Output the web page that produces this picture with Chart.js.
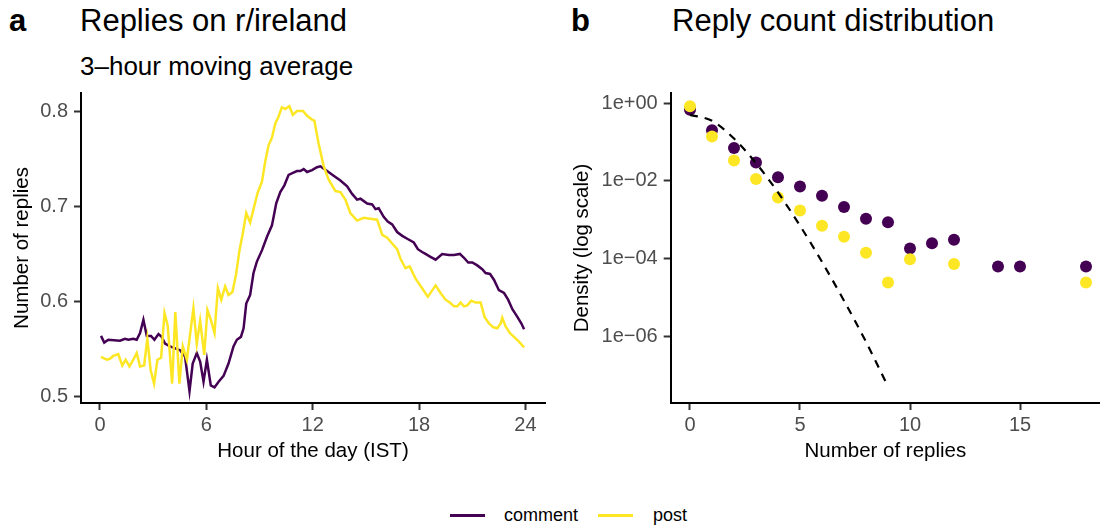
<!DOCTYPE html>
<html>
<head>
<meta charset="utf-8">
<script src="https://cdn.jsdelivr.net/npm/chart.js@4"></script>
<style>
  html, body { margin: 0; padding: 0; background: #fff; width: 1101px; height: 525px; overflow: hidden; }
  body { position: relative; font-family: "Liberation Sans", Arial, Helvetica, sans-serif; color: #000; }
  .txt { position: absolute; white-space: nowrap; line-height: 1; }
  canvas { position: absolute; top: 0; }
  .sw { position: absolute; height: 2.5px; }
</style>
</head>
<body>
<div class="txt" style="left:9px; top:5px; font-size:31px; font-weight:bold;">a</div>
<div class="txt" style="left:80px; top:5px; font-size:31px;">Replies on r/ireland</div>
<div class="txt" style="left:80px; top:53px; font-size:26px;">3–hour moving average</div>
<div class="txt" style="left:571px; top:5px; font-size:31px; font-weight:bold;">b</div>
<div class="txt" style="left:672px; top:5px; font-size:31px;">Reply count distribution</div>

<canvas id="left" width="550" height="480" style="left:0px;"></canvas>
<canvas id="right" width="549" height="480" style="left:551px;"></canvas>

<div class="sw" style="left:450px; top:514px; width:35px; background:#440154;"></div>
<div class="txt" style="left:504px; top:506px; font-size:18px;">comment</div>
<div class="sw" style="left:598px; top:514px; width:35px; background:#FDE725;"></div>
<div class="txt" style="left:653px; top:506px; font-size:18px;">post</div>

<script>
// ---------- Panel a: 3-hour moving average of replies ----------
const commentHours = [0.06,0.24,0.47,1.13,1.41,1.6,1.88,2.07,2.26,2.45,2.64,2.88,3.07,3.3,3.48,3.67,3.95,4.24,4.52,4.8,5.05,5.23,5.46,5.65,5.84,6.03,6.25,6.46,6.69,6.97,7.25,7.53,7.72,7.95,8.1,8.25,8.47,8.66,8.85,9.14,9.42,9.7,9.94,10.17,10.4,10.64,10.88,11.11,11.3,11.49,11.68,11.96,12.24,12.43,12.81,13.18,13.56,13.94,14.22,14.5,14.69,15.07,15.35,15.54,15.72,16.0,16.23,16.48,16.76,17.05,17.33,17.7,17.93,18.17,18.36,18.64,18.93,19.3,19.68,19.97,20.3,20.53,20.77,21.0,21.28,21.56,21.75,22.0,22.22,22.5,22.79,23.02,23.26,23.54,23.77,23.92];
const commentValues = [0.564,0.557,0.560,0.559,0.561,0.560,0.561,0.560,0.567,0.581,0.564,0.564,0.560,0.566,0.563,0.556,0.553,0.551,0.549,0.542,0.506,0.535,0.546,0.537,0.516,0.539,0.512,0.510,0.516,0.522,0.535,0.553,0.560,0.563,0.572,0.598,0.607,0.630,0.642,0.654,0.668,0.680,0.703,0.715,0.722,0.733,0.735,0.737,0.737,0.739,0.736,0.738,0.741,0.742,0.737,0.732,0.727,0.721,0.713,0.707,0.708,0.703,0.702,0.697,0.698,0.689,0.684,0.681,0.673,0.669,0.666,0.662,0.655,0.652,0.650,0.647,0.644,0.650,0.649,0.649,0.650,0.646,0.641,0.641,0.638,0.634,0.630,0.629,0.623,0.612,0.609,0.602,0.592,0.584,0.577,0.571];
const postHours = [0.06,0.38,0.56,0.75,1.03,1.26,1.45,1.66,1.88,2.07,2.26,2.49,2.67,2.86,3.05,3.24,3.45,3.64,3.82,4.07,4.25,4.48,4.67,4.9,5.27,5.46,5.65,5.88,6.06,6.25,6.46,6.65,6.84,7.06,7.25,7.47,7.67,7.87,8.06,8.25,8.47,8.7,8.89,9.14,9.32,9.51,9.7,9.89,10.07,10.26,10.45,10.68,10.88,11.11,11.45,11.68,11.96,12.09,12.33,12.62,12.9,13.28,13.56,13.84,14.12,14.5,14.88,15.25,15.63,15.92,16.2,16.48,16.76,16.95,17.23,17.47,17.8,18.17,18.49,18.93,19.21,19.49,19.73,19.97,20.15,20.34,20.53,20.72,20.94,21.19,21.47,21.69,21.94,22.19,22.41,22.6,22.69,22.88,23.12,23.35,23.63,23.92];
const postValues = [0.542,0.539,0.540,0.543,0.545,0.533,0.539,0.532,0.539,0.546,0.532,0.533,0.561,0.528,0.514,0.539,0.541,0.588,0.575,0.514,0.589,0.514,0.553,0.539,0.593,0.556,0.580,0.544,0.591,0.581,0.567,0.614,0.602,0.616,0.607,0.610,0.628,0.654,0.672,0.693,0.683,0.700,0.714,0.726,0.747,0.764,0.772,0.787,0.794,0.804,0.802,0.805,0.796,0.800,0.800,0.795,0.791,0.790,0.766,0.742,0.728,0.716,0.715,0.707,0.693,0.685,0.688,0.687,0.686,0.670,0.667,0.661,0.655,0.645,0.635,0.637,0.624,0.614,0.605,0.617,0.609,0.602,0.599,0.595,0.595,0.599,0.595,0.596,0.601,0.599,0.599,0.584,0.577,0.573,0.572,0.577,0.583,0.574,0.567,0.563,0.558,0.552];
const hourTicks = [0, 6, 12, 18, 24];
const repliesTicks = [0.5, 0.6, 0.7, 0.8];

// ---------- Panel b: reply count distribution ----------
const commentCounts = [0,1,2,3,4,5,6,7,8,9,10,11,12,14,15,18];
const commentDensity = [0.67,0.2,0.069,0.0295,0.0123,0.0071,0.0041,0.0021,0.00105,0.00085,0.00018,0.000245,0.0003,6.2e-5,6.2e-5,6.2e-5];
const postCounts = [0,1,2,3,4,5,6,7,8,9,10,12,18];
const postDensity = [0.82,0.138,0.033,0.011,0.0037,0.0017,0.00069,0.00036,0.00014,2.4e-5,9.5e-5,7.2e-5,2.4e-5];
const poissonCounts = [0,1,2,3,4,5,6,7,8,9];
const poissonDensity = [0.4966,0.3476,0.1217,0.02839,0.004968,0.0006955,8.114e-5,8.114e-6,7.1e-7,5.0e-8];
const countTicks = [0, 5, 10, 15];
const densityTicks = [1, 1e-2, 1e-4, 1e-6];
const densityTickLabels = ['1e+00', '1e\u221202', '1e\u221204', '1e\u221206'];

const PURPLE = '#440154', YELLOW = '#FDE725';
const FONT = '"Liberation Sans", Arial, Helvetica, sans-serif';
const zip = (xs, ys) => xs.map((x, i) => ({x: x, y: ys[i]}));

function axisBase(ticksList, titleText, isY, fixedSize, titlePad) {
  return {
    bounds: 'data',
    border: { display: true, color: '#000', width: 2 },
    grid: { display: true, drawOnChartArea: false, drawTicks: true, tickLength: 7, tickWidth: 2, tickColor: '#333333' },
    ticks: { font: { family: FONT, size: 20 }, color: '#4D4D4D', padding: isY ? 6 : 3, autoSkip: false, maxRotation: 0 },
    title: { display: true, text: titleText, color: '#000', font: { family: FONT, size: 20.5 },
             padding: isY ? { top: titlePad, bottom: 0 } : { top: 0, bottom: titlePad } },
    afterBuildTicks: (scale) => { scale.ticks = ticksList.map(v => ({ value: v })); },
    afterFit: (scale) => { if (isY) scale.width = fixedSize; else scale.height = fixedSize; }
  };
}

Chart.defaults.font.family = FONT;

// Left chart
const leftX = axisBase(hourTicks, 'Hour of the day (IST)', false, 77, 16);
leftX.type = 'linear'; leftX.position = 'bottom'; leftX.min = -1.07; leftX.max = 25.1;
const leftY = axisBase(repliesTicks, 'Number of replies', true, 81, 10);
leftY.type = 'linear'; leftY.position = 'left'; leftY.min = 0.4936; leftY.max = 0.8189;
leftY.ticks.callback = (v) => v.toFixed(1);

new Chart(document.getElementById('left'), {
  type: 'scatter',
  data: {
    datasets: [
      { label: 'post', data: zip(postHours, postValues), showLine: true, borderColor: YELLOW, borderWidth: 2.5,
        pointRadius: 0, tension: 0, order: 0 },
      { label: 'comment', data: zip(commentHours, commentValues), showLine: true, borderColor: PURPLE, borderWidth: 2.5,
        pointRadius: 0, tension: 0, order: 1 }
    ]
  },
  options: {
    responsive: false, animation: false, events: [],
    layout: { autoPadding: false, padding: { top: 93, left: 0, right: 5, bottom: 0 } },
    plugins: { legend: { display: false }, tooltip: { enabled: false } },
    scales: { x: leftX, y: leftY }
  }
});

// Right chart
const rightX = axisBase(countTicks, 'Number of replies', false, 77, 16);
rightX.type = 'linear'; rightX.position = 'bottom'; rightX.min = -0.877; rightX.max = 18.636;
const rightY = axisBase(densityTicks, 'Density (log scale)', true, 119.7, 19);
rightY.type = 'logarithmic'; rightY.position = 'left'; rightY.min = 1.89e-8; rightY.max = 1.81;
rightY.ticks.callback = (v) => { const i = densityTicks.findIndex(t => Math.abs(Math.log10(t) - Math.log10(v)) < 1e-6); return i >= 0 ? densityTickLabels[i] : ''; };

new Chart(document.getElementById('right'), {
  type: 'scatter',
  data: {
    datasets: [
      { label: 'poisson', type: 'line', data: zip(poissonCounts, poissonDensity), borderColor: '#000', borderWidth: 2.2,
        borderDash: [8, 7], pointRadius: 0, cubicInterpolationMode: 'monotone', fill: false, order: 0 },
      { label: 'post', data: zip(postCounts, postDensity), backgroundColor: YELLOW, borderWidth: 0, pointRadius: 6, order: 1 },
      { label: 'comment', data: zip(commentCounts, commentDensity), backgroundColor: PURPLE, borderWidth: 0, pointRadius: 6, order: 2 }
    ]
  },
  options: {
    responsive: false, animation: false, events: [],
    layout: { autoPadding: false, padding: { top: 93, left: 0, right: 0, bottom: 0 } },
    plugins: { legend: { display: false }, tooltip: { enabled: false } },
    scales: { x: rightX, y: rightY }
  }
});
</script>
</body>
</html>
